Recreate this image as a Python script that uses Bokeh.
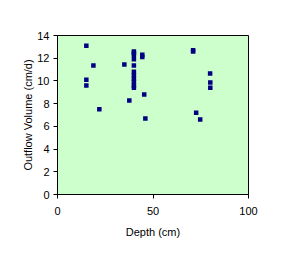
from bokeh.plotting import figure
from bokeh.models import Range1d, FixedTicker
from bokeh.embed import file_html
from bokeh.resources import INLINE

depth = [15.1, 18.8, 15.1, 15.1, 21.9,
         35.0, 37.6, 40, 40, 40, 40, 40, 40, 40, 40, 40, 40, 40,
         44.4, 44.4, 45.4, 46.0,
         71.0, 71.0, 72.6, 74.7, 79.9, 80, 80]
outflow = [13.1, 11.36, 10.1, 9.6, 7.5,
           11.44, 8.27, 12.6, 12.3, 11.9, 11.36, 10.8, 10.5, 10.2, 9.9, 9.6, 9.4, 12.45,
           12.3, 12.1, 8.8, 6.7,
           12.7, 12.6, 7.2, 6.6, 10.65, 9.86, 9.4]

x_ticks = [0, 50, 100]
y_ticks = [0, 2, 4, 6, 8, 10, 12, 14]

p = figure(width=285, height=268, output_backend="svg", toolbar_location=None,
           x_range=Range1d(0, 100), y_range=Range1d(0, 14),
           min_border_left=57, min_border_right=37, min_border_top=35, min_border_bottom=74)
p.frame_width = 191
p.frame_height = 159

p.background_fill_color = "#CCFFCC"
p.border_fill_color = "white"
p.outline_line_color = "black"
p.outline_line_width = 1
p.xgrid.visible = False
p.ygrid.visible = False

p.scatter(depth, outflow, marker="square", size=4.5, fill_color="#000080", line_color=None)

for ax, ticks in ((p.xaxis, x_ticks), (p.yaxis, y_ticks)):
    ax.ticker = FixedTicker(ticks=ticks)
    ax.minor_tick_line_color = None
    ax.major_tick_in = 0
    ax.major_tick_out = 4
    ax.axis_line_color = "black"
    ax.major_tick_line_color = "black"
    ax.major_label_text_font = "Liberation Sans"
    ax.major_label_text_font_size = "11px"
    ax.major_label_text_color = "black"
    ax.axis_label_text_font = "Liberation Sans"
    ax.axis_label_text_font_size = "11px"
    ax.axis_label_text_font_style = "normal"
    ax.axis_label_text_color = "black"

p.xaxis.axis_label = "Depth (cm)"
p.yaxis.axis_label = "Outflow Volume (cm/d)"
p.xaxis.major_label_standoff = 8
p.xaxis.axis_label_standoff = 8
p.yaxis.major_label_standoff = 4
p.yaxis.axis_label_standoff = 0

open("out.html", "w").write(file_html(p, INLINE))
